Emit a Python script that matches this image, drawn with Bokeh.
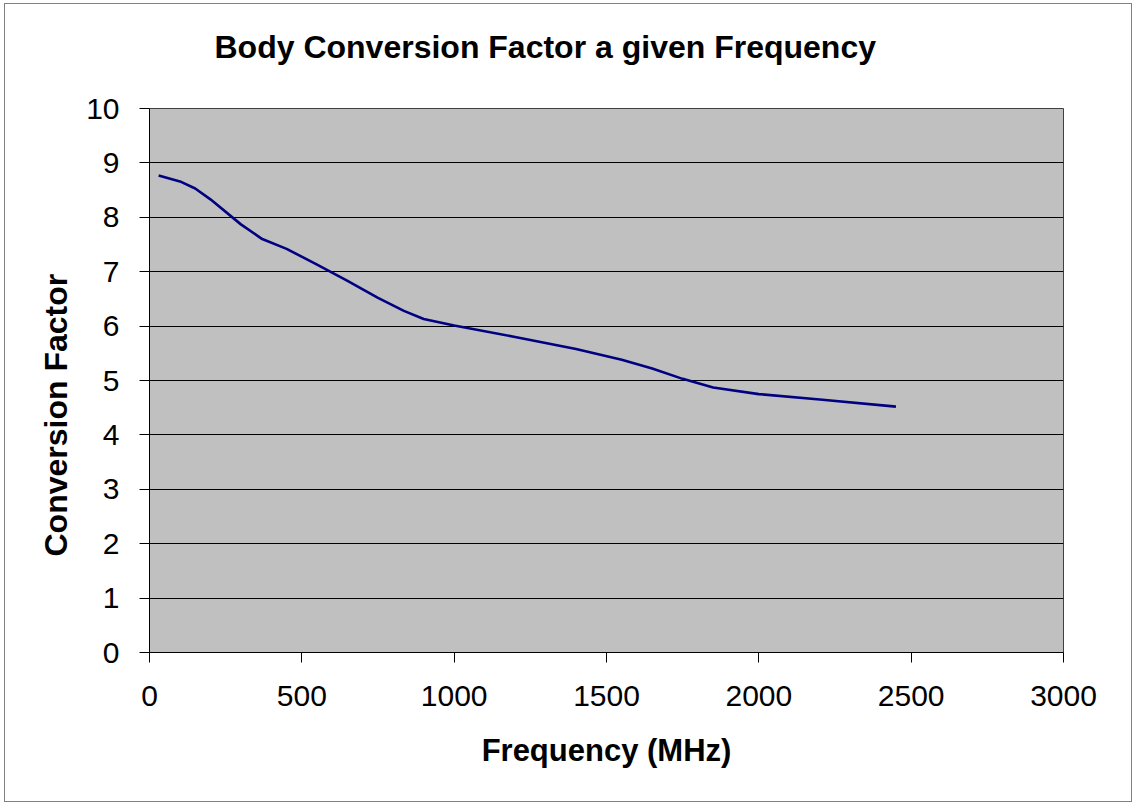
from bokeh.plotting import figure
from bokeh.models import Range1d, FixedTicker, Title
from bokeh.embed import file_html
from bokeh.resources import INLINE

# Data
frequency_mhz = [30, 100, 150, 200, 300, 370, 450, 550, 650, 750, 835, 900,
                 1000, 1200, 1400, 1550, 1650, 1750, 1850, 2000, 2200, 2450]
conversion_factor = [8.77, 8.66, 8.53, 8.33, 7.87, 7.60, 7.42, 7.13, 6.83, 6.52, 6.28, 6.13,
                     6.01, 5.80, 5.58, 5.38, 5.22, 5.03, 4.87, 4.75, 4.65, 4.52]
x_ticks = [0, 500, 1000, 1500, 2000, 2500, 3000]
y_ticks = [0, 1, 2, 3, 4, 5, 6, 7, 8, 9, 10]

FONT = "Liberation Sans"

p = figure(width=1128, height=799, output_backend="svg", toolbar_location=None,
           x_range=Range1d(0, 3000), y_range=Range1d(0, 10),
           min_border_left=144, min_border_right=70, min_border_top=104, min_border_bottom=151)
p.styles = {"border": "1px solid #808080", "box-sizing": "border-box", "margin": "3px 0 0 4px"}

p.title.text = "Body Conversion Factor a given Frequency\n "
p.title.text_font = FONT
p.title.text_font_size = "32px"
p.title.text_font_style = "bold"
p.title.text_color = "black"
p.title.align = "left"
p.title.offset = 65
p.title.standoff = 16

p.background_fill_color = "#C0C0C0"
p.border_fill_color = "white"
p.outline_line_color = "#404040"
p.outline_line_width = 1

p.line(frequency_mhz, conversion_factor, line_color="#000080", line_width=2.6)

p.xgrid.visible = False
p.ygrid.ticker = FixedTicker(ticks=y_ticks)
p.ygrid.grid_line_color = "black"
p.ygrid.grid_line_width = 1

p.xaxis.ticker = FixedTicker(ticks=x_ticks)
p.yaxis.ticker = FixedTicker(ticks=y_ticks)
for ax in (p.xaxis[0], p.yaxis[0]):
    ax.axis_line_color = "black"
    ax.major_tick_line_color = "black"
    ax.major_tick_in = 0
    ax.major_tick_out = 10
    ax.minor_tick_line_color = None
    ax.major_label_text_font = FONT
    ax.major_label_text_font_size = "30px"
    ax.major_label_text_color = "black"

p.xaxis.major_label_standoff = 23
p.yaxis.major_label_standoff = 20

p.xaxis.axis_label = "Frequency (MHz)"
p.xaxis.axis_label_text_font = FONT
p.xaxis.axis_label_text_font_size = "31px"
p.xaxis.axis_label_text_font_style = "bold"
p.xaxis.axis_label_text_color = "black"
p.xaxis.axis_label_standoff = 24

ytitle = Title(text="Conversion Factor", text_font=FONT, text_font_size="32px",
               text_font_style="bold", text_color="black", align="left",
               offset=96, standoff=20)
p.add_layout(ytitle, "left")

open("out.html", "w").write(file_html(p, INLINE))
